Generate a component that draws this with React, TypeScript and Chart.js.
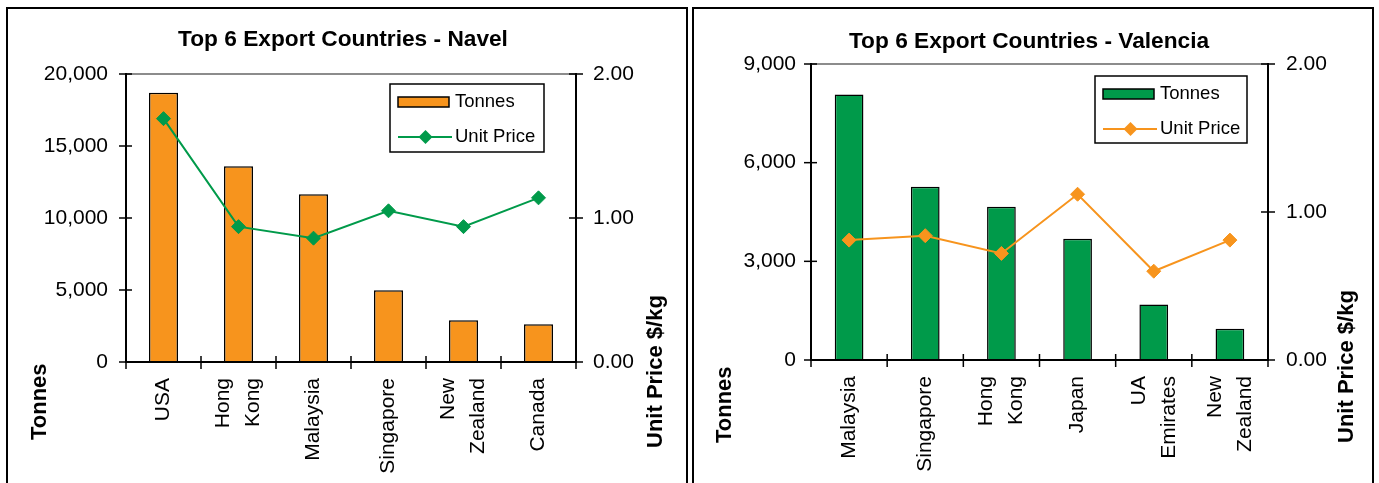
import React, { useEffect, useRef } from 'react';
import { Chart, registerables } from 'chart.js';

Chart.register(...registerables);

const FONT = "'Liberation Sans', Arial, Helvetica, sans-serif";

// ---------- Data ----------
const navelCountries: (string | string[])[] = ['USA', ['Hong', 'Kong'], 'Malaysia', 'Singapore', ['New', 'Zealand'], 'Canada'];
const navelTonnes = [18700, 13600, 11650, 4980, 2900, 2620];
const navelPrice = [1.69, 0.94, 0.86, 1.05, 0.94, 1.14];
const navelTonnesTicks = { max: 20000, step: 5000 };

const valenciaCountries: (string | string[])[] = ['Malaysia', 'Singapore', ['Hong', 'Kong'], 'Japan', ['UA', 'Emirates'], ['New', 'Zealand']];
const valenciaTonnes = [8070, 5270, 4660, 3690, 1690, 950];
const valenciaPrice = [0.81, 0.84, 0.72, 1.12, 0.6, 0.81];
const valenciaTonnesTicks = { max: 9000, step: 3000 };

const priceTicks = { max: 2, step: 1 };

const ORANGE = '#F7941D';
const GREEN = '#009A4A';

interface Spec {
  title: string;
  categories: (string | string[])[];
  tonnes: number[];
  price: number[];
  tonnesTicks: { max: number; step: number };
  barColor: string;
  lineColor: string;
  barPct: number;
  area: { left: number; right: number; top: number; bottom: number };
  yPad: number;
  y1Pad: number;
  titlePos: [number, number];
  leftTitlePos: [number, number];
  rightTitlePos: [number, number];
  legend: { x: number; y: number; w: number; h: number };
}

const CW = 678;
const CH = 474;

function line(ctx: CanvasRenderingContext2D, x1: number, y1: number, x2: number, y2: number) {
  ctx.beginPath();
  ctx.moveTo(x1, y1);
  ctx.lineTo(x2, y2);
  ctx.stroke();
}

function diamond(ctx: CanvasRenderingContext2D, x: number, y: number, r: number, color: string) {
  ctx.beginPath();
  ctx.moveTo(x, y - r);
  ctx.lineTo(x + r, y);
  ctx.lineTo(x, y + r);
  ctx.lineTo(x - r, y);
  ctx.closePath();
  ctx.fillStyle = color;
  ctx.fill();
}

function makePlugin(s: Spec) {
  return {
    id: 'decor',
    afterDraw(chart: any) {
      const { ctx, chartArea: a, scales } = chart;
      const xs = scales.x;
      const ys = scales.y;
      const y1 = scales.y1;
      ctx.save();
      // top gray border
      ctx.strokeStyle = '#8c8c8c';
      ctx.lineWidth = 2;
      line(ctx, a.left, a.top, a.right, a.top);
      // axes
      ctx.strokeStyle = '#000';
      ctx.lineWidth = 2;
      line(ctx, a.left, a.top - 1, a.left, a.bottom + 1);
      line(ctx, a.right, a.top - 1, a.right, a.bottom + 1);
      line(ctx, a.left - 1, a.bottom, a.right + 1, a.bottom);
      ctx.lineWidth = 1.5;
      ys.ticks.forEach((t: any) => {
        const py = ys.getPixelForValue(t.value);
        line(ctx, a.left - 7, py, a.left + 6, py);
      });
      y1.ticks.forEach((t: any) => {
        const py = y1.getPixelForValue(t.value);
        line(ctx, a.right - 7, py, a.right + 7, py);
      });
      const n = s.categories.length;
      const step = xs.getPixelForValue(1) - xs.getPixelForValue(0);
      for (let i = 0; i <= n; i++) {
        const px = xs.getPixelForValue(0) - step / 2 + i * step;
        line(ctx, px, a.bottom - 6, px, a.bottom + 7);
      }
      // x labels
      ctx.fillStyle = '#000';
      ctx.font = `21px ${FONT}`;
      ctx.textAlign = 'right';
      ctx.textBaseline = 'middle';
      s.categories.forEach((c, i) => {
        const lines = Array.isArray(c) ? c : [c];
        const px = xs.getPixelForValue(i);
        ctx.save();
        ctx.translate(px, a.bottom + 16);
        ctx.rotate(-Math.PI / 2);
        lines.forEach((ln, j) => ctx.fillText(ln, 0, (j - (lines.length - 1) / 2) * 30));
        ctx.restore();
      });
      // title
      ctx.font = `bold 22.7px ${FONT}`;
      ctx.textAlign = 'center';
      ctx.textBaseline = 'alphabetic';
      ctx.fillText(s.title, s.titlePos[0], s.titlePos[1]);
      // axis titles
      ctx.font = `bold 22px ${FONT}`;
      ctx.textAlign = 'left';
      ctx.textBaseline = 'middle';
      const rot = (txt: string, p: [number, number]) => {
        ctx.save();
        ctx.translate(p[0], p[1]);
        ctx.rotate(-Math.PI / 2);
        ctx.fillText(txt, 0, 0);
        ctx.restore();
      };
      rot('Tonnes', s.leftTitlePos);
      rot('Unit Price $/kg', s.rightTitlePos);
      // legend
      const L = s.legend;
      ctx.fillStyle = '#fff';
      ctx.fillRect(L.x, L.y, L.w, L.h);
      ctx.strokeStyle = '#000';
      ctx.lineWidth = 1.5;
      ctx.strokeRect(L.x, L.y, L.w, L.h);
      const ds = chart.data.datasets;
      const barDs = ds.find((d: any) => d.type !== 'line');
      const lineDs = ds.find((d: any) => d.type === 'line');
      ctx.fillStyle = barDs.backgroundColor;
      ctx.fillRect(L.x + 8, L.y + 13, 51, 10);
      ctx.strokeRect(L.x + 8, L.y + 13, 51, 10);
      ctx.strokeStyle = lineDs.borderColor;
      ctx.lineWidth = 2;
      line(ctx, L.x + 8, L.y + 53, L.x + 62, L.y + 53);
      diamond(ctx, L.x + 35.5, L.y + 53, 7, lineDs.borderColor);
      ctx.fillStyle = '#000';
      ctx.font = `18.5px ${FONT}`;
      ctx.textAlign = 'left';
      ctx.textBaseline = 'middle';
      ctx.fillText(barDs.label, L.x + 65, L.y + 18);
      ctx.fillText(lineDs.label, L.x + 65, L.y + 53);
      ctx.restore();
    },
  };
}

function Panel({ spec, left }: { spec: Spec; left: number }) {
  const ref = useRef<HTMLCanvasElement>(null);
  useEffect(() => {
    const s = spec;
    const chart = new Chart(ref.current as HTMLCanvasElement, {
      type: 'bar',
      data: {
        labels: s.categories as any,
        datasets: [
          {
            type: 'line',
            label: 'Unit Price',
            data: s.price,
            yAxisID: 'y1',
            borderColor: s.lineColor,
            backgroundColor: s.lineColor,
            borderWidth: 2,
            pointStyle: 'rectRot',
            pointRadius: 7,
            pointBackgroundColor: s.lineColor,
            pointBorderColor: s.lineColor,
            pointBorderWidth: 1,
            tension: 0,
            order: 0,
          } as any,
          {
            type: 'bar',
            label: 'Tonnes',
            data: s.tonnes,
            yAxisID: 'y',
            backgroundColor: s.barColor,
            borderColor: '#000',
            borderWidth: 1.5,
            categoryPercentage: 1,
            barPercentage: s.barPct,
            order: 1,
          } as any,
        ],
      },
      options: {
        responsive: false,
        animation: false,
        devicePixelRatio: 1,
        layout: { padding: { top: s.area.top, left: 0, right: 0, bottom: 0 } },
        plugins: { legend: { display: false }, title: { display: false }, tooltip: { enabled: false } },
        scales: {
          x: {
            offset: true,
            grid: { display: false, drawTicks: false },
            border: { display: false },
            ticks: { display: false },
            afterFit: (sc: any) => {
              sc.height = CH - s.area.bottom;
            },
          },
          y: {
            position: 'left',
            min: 0,
            max: s.tonnesTicks.max,
            grid: { display: false, drawTicks: false },
            border: { display: false },
            ticks: {
              stepSize: s.tonnesTicks.step,
              color: '#000',
              padding: s.yPad,
              font: { size: 21, family: FONT },
              callback: (v: any) => Number(v).toLocaleString('en-US'),
            },
            afterFit: (sc: any) => {
              sc.width = s.area.left;
            },
          },
          y1: {
            position: 'right',
            min: 0,
            max: priceTicks.max,
            grid: { display: false, drawTicks: false },
            border: { display: false },
            ticks: {
              stepSize: priceTicks.step,
              color: '#000',
              padding: s.y1Pad,
              font: { size: 21, family: FONT },
              callback: (v: any) => Number(v).toFixed(2),
            },
            afterFit: (sc: any) => {
              sc.width = CW - s.area.right;
            },
          },
        },
      } as any,
      plugins: [makePlugin(s)],
    });
    return () => chart.destroy();
  }, [spec]);
  return (
    <div
      style={{
        position: 'absolute',
        left,
        top: 7,
        width: 682,
        height: 500,
        border: '2px solid #000',
        boxSizing: 'border-box',
        background: '#fff',
        overflow: 'hidden',
      }}
    >
      <canvas ref={ref} width={CW} height={CH} style={{ display: 'block' }} />
    </div>
  );
}

const navelSpec: Spec = {
  title: 'Top 6 Export Countries - Navel',
  categories: navelCountries,
  tonnes: navelTonnes,
  price: navelPrice,
  tonnesTicks: navelTonnesTicks,
  barColor: ORANGE,
  lineColor: GREEN,
  barPct: 0.387,
  area: { left: 118, right: 568, top: 65, bottom: 353 },
  yPad: 18,
  y1Pad: 17,
  titlePos: [335, 37],
  leftTitlePos: [31.5, 431],
  rightTitlePos: [648, 439],
  legend: { x: 382, y: 75, w: 154, h: 68 },
};

const valenciaSpec: Spec = {
  title: 'Top 6 Export Countries - Valencia',
  categories: valenciaCountries,
  tonnes: valenciaTonnes,
  price: valenciaPrice,
  tonnesTicks: valenciaTonnesTicks,
  barColor: GREEN,
  lineColor: ORANGE,
  barPct: 0.377,
  area: { left: 117, right: 574, top: 55, bottom: 351 },
  yPad: 15,
  y1Pad: 18,
  titlePos: [335, 39],
  leftTitlePos: [31, 434],
  rightTitlePos: [653, 434],
  legend: { x: 401, y: 67, w: 152, h: 67 },
};

export default function App() {
  return (
    <div
      style={{
        position: 'fixed',
        left: 0,
        top: 0,
        width: 1379,
        height: 483,
        overflow: 'hidden',
        background: '#fff',
        fontFamily: FONT,
      }}
    >
      <Panel spec={navelSpec} left={6} />
      <Panel spec={valenciaSpec} left={692} />
    </div>
  );
}
